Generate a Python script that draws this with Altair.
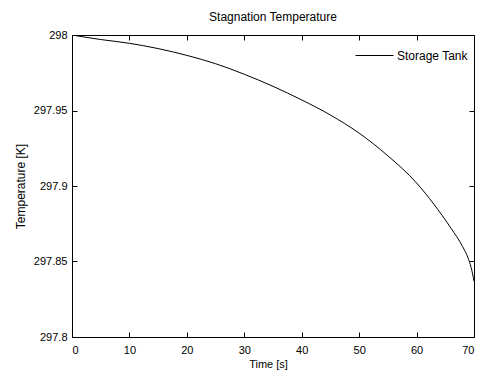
import altair as alt
import pandas as pd

# Data
time_s = [0, 5, 10, 15, 20, 25, 30, 35, 40, 45, 50, 55, 60, 63, 66, 68, 69, 69.5, 70]
temp_k = [298.000, 297.997, 297.9945, 297.991, 297.9865, 297.981, 297.974, 297.966,
          297.957, 297.947, 297.935, 297.920, 297.902, 297.888, 297.872, 297.860,
          297.852, 297.846, 297.837]
series_name = "Storage Tank"
x_ticks = [0, 10, 20, 30, 40, 50, 60, 70]
y_ticks = [297.8, 297.85, 297.9, 297.95, 298.0]

df = pd.DataFrame({"time": time_s, "temp": temp_k, "series": series_name})

W, H = 402, 302
FONT = "Liberation Sans"
xs = alt.Scale(domain=[0, 70], nice=False, zero=False)
ys = alt.Scale(domain=[297.8, 298.0], nice=False, zero=False)

line = alt.Chart(df).mark_line(strokeWidth=1, clip=True, interpolate="monotone").encode(
    x=alt.X("time:Q", scale=xs, axis=alt.Axis(
        orient="bottom", values=x_ticks, title="Time [s]", tickSize=0, domain=False,
        labelPadding=7, titlePadding=3, format="d", titleX=196)),
    y=alt.Y("temp:Q", scale=ys, axis=alt.Axis(
        orient="left", values=y_ticks, title="Temperature [K]", tickSize=0, domain=False,
        labelPadding=5, titlePadding=6, format=".2~f", titleFontSize=12)),
    color=alt.Color("series:N", scale=alt.Scale(range=["black"]), legend=alt.Legend(
        title=None, orient="none", legendX=283, legendY=1, symbolType="stroke",
        symbolSize=1444, symbolStrokeWidth=1, labelFontSize=12, labelFont=FONT,
        labelColor="black", labelOffset=3, padding=0)),
)

tick_kw = dict(labels=False, domain=False, title=None, tickSize=5,
               tickColor="black", tickWidth=1)

def tick_axis(orient, offset, vals):
    return alt.Axis(orient=orient, offset=offset, values=vals, **tick_kw)

ticks_a = alt.Chart(df).mark_point(opacity=0).encode(
    x=alt.X("time:Q", scale=xs, axis=tick_axis("top", -H, x_ticks)),
    y=alt.Y("temp:Q", scale=ys, axis=tick_axis("right", -W, y_ticks)),
)
ticks_b = alt.Chart(df).mark_point(opacity=0).encode(
    x=alt.X("time:Q", scale=xs, axis=tick_axis("bottom", -H, x_ticks)),
    y=alt.Y("temp:Q", scale=ys, axis=tick_axis("left", -W, y_ticks)),
)

chart = alt.layer(line, ticks_a, ticks_b).properties(
    width=W, height=H,
    title=alt.TitleParams("Stagnation Temperature", fontSize=12, font=FONT,
                          fontWeight="normal", color="black", offset=3, dy=7,
                          baseline="alphabetic", frame="group"),
    autosize=alt.AutoSizeParams(type="none"),
    padding={"left": 64, "top": 27, "right": 1, "bottom": 34},
).configure_view(stroke="black", strokeWidth=1).configure_axis(
    grid=False, labelFont=FONT, titleFont=FONT, labelFontSize=11, titleFontSize=11,
    labelColor="black", titleColor="black", titleFontWeight="normal",
)

chart.save("out.html", embed_options={"renderer": "svg", "actions": False})
